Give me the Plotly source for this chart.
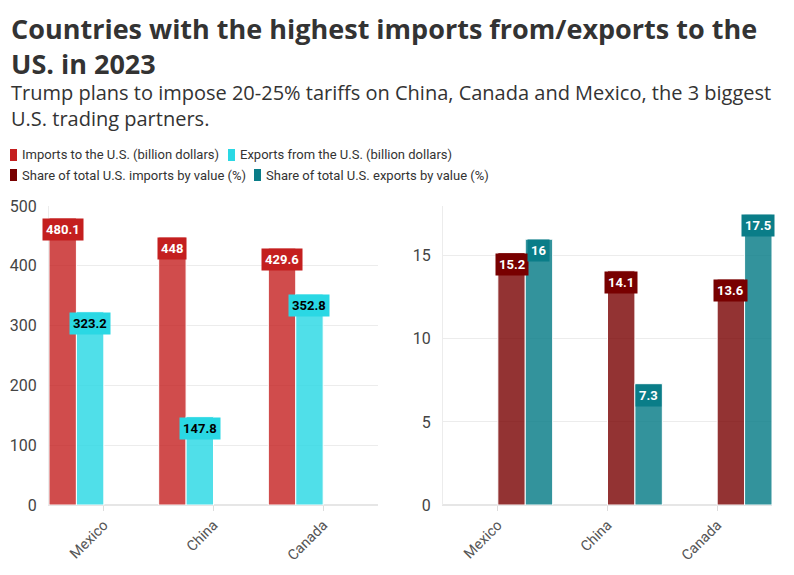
import plotly.graph_objects as go

countries = ["Mexico", "China", "Canada"]
imports_bn = [480.1, 448, 429.6]
exports_bn = [323.2, 147.8, 352.8]
share_imports = [15.2, 14.1, 13.6]
share_exports = [16, 7.3, 17.5]

names = [
    "Imports to the U.S. (billion dollars)",
    "Exports from the U.S. (billion dollars)",
    "Share of total U.S. imports by value (%)",
    "Share of total U.S. exports by value (%)",
]
base_colors = ["#c41f1f", "#2ad8e4", "#780000", "#0a7d88"]
bar_colors = ["rgba(196,31,31,0.8)", "rgba(42,216,228,0.82)",
              "rgba(120,0,0,0.8)", "rgba(10,125,136,0.83)"]
label_font_colors = ["white", "black", "white", "white"]
series = [imports_bn, exports_bn, share_imports, share_exports]
axes = [("x", "y"), ("x", "y"), ("x2", "y2"), ("x2", "y2")]
offsets = [-0.5, -0.25, 0.0, 0.25]

# legend layout (pixel positions of each key: swatch left, row centre)
legend_pos = [(10, 155), (228, 155), (10, 175), (254, 175)]

FONT = "Roboto"
HFONT = "Open Sans"
W, HT = 794, 575
L, T, PW, H = 49, 206, 723, 299  # plot left/top (px), plot width/height (px)


def px_x(p):
    return (p - L) / PW


def px_y(p):
    return 1 + (T - p) / H


fig = go.Figure()
for i in range(4):
    fig.add_trace(go.Bar(
        x=countries, y=series[i], name=names[i],
        xaxis=axes[i][0], yaxis=axes[i][1],
        offset=offsets[i], width=0.25,
        marker=dict(color=bar_colors[i], line=dict(color="white", width=1)),
        showlegend=False, hoverinfo="skip",
    ))

annotations = []
shapes = []
for i in range(4):
    for j, v in enumerate(series[i]):
        annotations.append(dict(
            x=j + offsets[i] + 0.125, y=v, xref=axes[i][0], yref=axes[i][1],
            text="<b>%s</b>" % (("%g" % v)), showarrow=False,
            yanchor="top", xanchor="center",
            bgcolor=base_colors[i], borderpad=3,
            font=dict(family=FONT, size=13, color=label_font_colors[i]),
        ))

# legend keys
for i in range(4):
    sx, cy = legend_pos[i]
    shapes.append(dict(
        type="rect", xref="paper", yref="paper",
        x0=px_x(sx), x1=px_x(sx + 7), y0=px_y(cy + 6), y1=px_y(cy - 6),
        fillcolor=base_colors[i], line=dict(width=0), layer="above",
    ))
    annotations.append(dict(
        text=names[i], xref="paper", yref="paper",
        x=px_x(sx + 10), y=px_y(cy), xanchor="left", yanchor="middle",
        showarrow=False, font=dict(family=FONT, size=13, color="#333333"),
    ))

annotations.append(dict(
    text="<b>Countries with the highest imports from/exports to the<br>US. in 2023</b>",
    xref="paper", yref="paper", x=px_x(9), y=px_y(8),
    xanchor="left", yanchor="top", align="left", showarrow=False,
    font=dict(family=HFONT, size=27, color="#333333"),
))
annotations.append(dict(
    text="Trump plans to impose 20-25% tariffs on China, Canada and Mexico, the 3 biggest<br>U.S. trading partners.",
    xref="paper", yref="paper", x=px_x(9), y=px_y(77),
    xanchor="left", yanchor="top", align="left", showarrow=False,
    font=dict(family=HFONT, size=20, color="#333333"),
))

axis_common = dict(
    type="category", range=[-0.5, 2.5], tickangle=-45,
    showline=True, linecolor="#e6e6e6", ticks="outside", ticklen=5,
    tickcolor="#dddddd", showgrid=False,
    tickfont=dict(family=FONT, size=14.5, color="#555555"),
)
yaxis_common = dict(
    showgrid=True, gridcolor="#ececec", zeroline=True, zerolinecolor="#e6e6e6",
    showline=True, linecolor="#ececec", ticks="outside", ticklen=8,
    tickcolor="rgba(0,0,0,0)",
    tickfont=dict(family=FONT, size=16, color="#444444"),
)

fig.update_layout(
    width=W, height=HT,
    margin=dict(l=L, r=W - L - PW, t=T, b=HT - T - H, autoexpand=False),
    paper_bgcolor="white", plot_bgcolor="white",
    barmode="overlay", showlegend=False,
    xaxis=dict(domain=[0, 329/723], anchor="y", **axis_common),
    xaxis2=dict(domain=[394/723, 1], anchor="y2", **axis_common),
    yaxis=dict(domain=[0, 1], anchor="x", range=[0, 500], dtick=100, **yaxis_common),
    yaxis2=dict(domain=[0, 1], anchor="x2", range=[0, 18], dtick=5, **yaxis_common),
    annotations=annotations, shapes=shapes,
)

fig.write_html("out.html")
